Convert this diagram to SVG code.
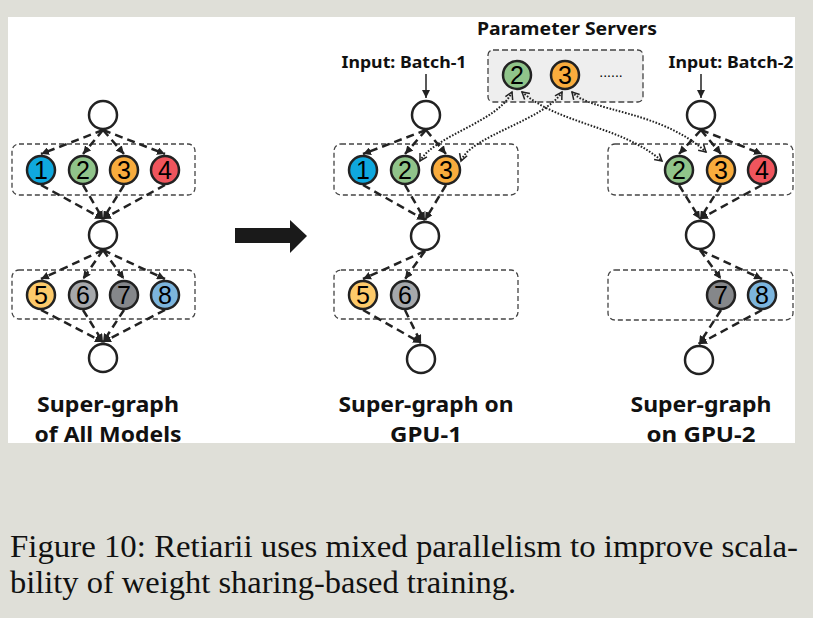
<svg xmlns="http://www.w3.org/2000/svg" width="813" height="618" viewBox="0 0 813 618">
<style>
.nd{stroke:#222;stroke-width:2.5}
.e{fill:#fff}
.num{font-family:"Liberation Sans",Arial,sans-serif;font-size:25px;fill:#000;text-anchor:middle}
.box{fill:none;stroke:#444;stroke-width:1.3;stroke-dasharray:5 3}
.dash{fill:none;stroke:#222;stroke-width:2.5;stroke-dasharray:8 5;marker-end:url(#ah)}
.dot{fill:none;stroke:#222;stroke-width:2;stroke-dasharray:1.6 1.6;marker-start:url(#oh);marker-end:url(#oh)}
.in{fill:none;stroke:#222;stroke-width:1.5;marker-end:url(#ih)}
.lbl{font-family:"Noto Sans","DejaVu Sans",sans-serif;font-weight:bold;fill:#111;text-anchor:middle}
.cap{font-family:"Liberation Serif","Times New Roman",serif;font-size:32px;fill:#111}
</style>
<defs>
<marker id="ah" markerUnits="userSpaceOnUse" markerWidth="9" markerHeight="8" refX="8" refY="4" orient="auto"><path d="M0,0 L8,4 L0,8 z" fill="#222"/></marker>
<marker id="ih" markerUnits="userSpaceOnUse" markerWidth="9" markerHeight="8" refX="8" refY="4" orient="auto"><path d="M0,0 L8,4 L0,8 z" fill="#222"/></marker>
<marker id="oh" markerUnits="userSpaceOnUse" markerWidth="10" markerHeight="10" refX="8" refY="5" orient="auto-start-reverse"><path d="M1,1 L8,5 L1,9" fill="none" stroke="#222" stroke-width="1.5"/></marker>
</defs>
<rect x="0" y="0" width="813" height="618" fill="#dfdfd8"/>
<rect x="8" y="17" width="787" height="426" fill="#fff"/>

<g id="boxes">
<rect class="box" x="12" y="144" width="183" height="51" rx="7"/>
<rect class="box" x="12" y="270" width="183" height="49" rx="7"/>
<rect class="box" x="334" y="144" width="184" height="51" rx="7"/>
<rect class="box" x="334" y="270" width="184" height="49" rx="7"/>
<rect class="box" x="608" y="144" width="185" height="51" rx="7"/>
<rect class="box" x="608" y="270" width="185" height="50" rx="7"/>
</g>
<g id="ps">
<rect x="488" y="50" width="155" height="52" rx="5" fill="#eeeeee" stroke="#444" stroke-width="1.3" stroke-dasharray="6 3"/>
<text x="567" y="35" class="lbl" font-size="18" textLength="180" lengthAdjust="spacingAndGlyphs">Parameter Servers</text>
<text x="611" y="77" font-family="Liberation Sans,sans-serif" font-size="14" fill="#000" text-anchor="middle">......</text>
</g>

<g id="connectors">
<!-- panel 1 -->
<line class="dash" x1="103" y1="130" x2="41" y2="154"/>
<line class="dash" x1="103" y1="130" x2="83" y2="154"/>
<line class="dash" x1="103" y1="130" x2="124" y2="154"/>
<line class="dash" x1="103" y1="130" x2="165" y2="154"/>
<line class="dash" x1="41" y1="185" x2="103" y2="219"/>
<line class="dash" x1="83" y1="185" x2="103" y2="219"/>
<line class="dash" x1="124" y1="185" x2="103" y2="219"/>
<line class="dash" x1="165" y1="185" x2="103" y2="219"/>
<line class="dash" x1="103" y1="250" x2="41" y2="279"/>
<line class="dash" x1="103" y1="250" x2="83" y2="279"/>
<line class="dash" x1="103" y1="250" x2="124" y2="279"/>
<line class="dash" x1="103" y1="250" x2="165" y2="279"/>
<line class="dash" x1="41" y1="310" x2="103" y2="342"/>
<line class="dash" x1="83" y1="310" x2="103" y2="342"/>
<line class="dash" x1="124" y1="310" x2="103" y2="342"/>
<line class="dash" x1="165" y1="310" x2="103" y2="342"/>
<!-- panel 2 -->
<line class="in" x1="426" y1="74" x2="426" y2="98"/>
<line class="dash" x1="426" y1="130" x2="363" y2="154"/>
<line class="dash" x1="426" y1="130" x2="405" y2="154"/>
<line class="dash" x1="426" y1="130" x2="446" y2="154"/>
<line class="dash" x1="363" y1="185" x2="425" y2="220"/>
<line class="dash" x1="405" y1="185" x2="425" y2="220"/>
<line class="dash" x1="446" y1="185" x2="425" y2="220"/>
<line class="dash" x1="425" y1="251" x2="363" y2="279"/>
<line class="dash" x1="425" y1="251" x2="405" y2="279"/>
<line class="dash" x1="363" y1="310" x2="421" y2="343"/>
<line class="dash" x1="405" y1="310" x2="421" y2="343"/>
<!-- panel 3 -->
<line class="in" x1="701" y1="74" x2="701" y2="98"/>
<line class="dash" x1="701" y1="130" x2="679" y2="154"/>
<line class="dash" x1="701" y1="130" x2="721" y2="154"/>
<line class="dash" x1="701" y1="130" x2="762" y2="154"/>
<line class="dash" x1="679" y1="185" x2="700" y2="219"/>
<line class="dash" x1="721" y1="185" x2="700" y2="219"/>
<line class="dash" x1="762" y1="185" x2="700" y2="219"/>
<line class="dash" x1="700" y1="250" x2="721" y2="279"/>
<line class="dash" x1="700" y1="250" x2="762" y2="279"/>
<line class="dash" x1="721" y1="310" x2="699" y2="344"/>
<line class="dash" x1="762" y1="310" x2="699" y2="344"/>
<!-- parameter server links -->
<path class="dot" d="M512,92 C498,122 435,135 420,161"/>
<path class="dot" d="M562,92 C545,120 470,136 461,161"/>
<path class="dot" d="M522,92 C560,125 620,125 662,161"/>
<path class="dot" d="M572,92 C590,112 660,110 706,152"/>
</g>

<g id="arrow"><path d="M235,228 H290 V220 L307,236 L290,253 V243 H235 z" fill="#1a1a1a"/></g>

<g id="p1">
<circle class="nd e" cx="103" cy="115" r="14"/>
<circle class="nd" cx="41" cy="170" r="14" fill="#0fa8de"/><text class="num" x="41" y="179">1</text>
<circle class="nd" cx="83" cy="170" r="14" fill="#90c48a"/><text class="num" x="83" y="179">2</text>
<circle class="nd" cx="124" cy="170" r="14" fill="#f9ac3d"/><text class="num" x="124" y="179">3</text>
<circle class="nd" cx="165" cy="170" r="14" fill="#f0555d"/><text class="num" x="165" y="179">4</text>
<circle class="nd e" cx="103" cy="235" r="14"/>
<circle class="nd" cx="41" cy="295" r="14" fill="#fdca6a"/><text class="num" x="41" y="304">5</text>
<circle class="nd" cx="83" cy="295" r="14" fill="#a6a8ab"/><text class="num" x="83" y="304">6</text>
<circle class="nd" cx="124" cy="295" r="14" fill="#85878a"/><text class="num" x="124" y="304">7</text>
<circle class="nd" cx="165" cy="295" r="14" fill="#7cb5dd"/><text class="num" x="165" y="304">8</text>
<circle class="nd e" cx="103" cy="358" r="14"/>
<text class="lbl" x="108" y="412" font-size="21" textLength="142" lengthAdjust="spacingAndGlyphs">Super-graph</text>
<text class="lbl" x="108" y="442" font-size="21" textLength="147" lengthAdjust="spacingAndGlyphs">of All Models</text>
</g>

<g id="p2">
<text class="lbl" x="404" y="68" font-size="16" textLength="125" lengthAdjust="spacingAndGlyphs">Input: Batch-1</text>
<circle class="nd e" cx="426" cy="115" r="14"/>
<circle class="nd" cx="363" cy="170" r="14" fill="#0fa8de"/><text class="num" x="363" y="179">1</text>
<circle class="nd" cx="405" cy="170" r="14" fill="#90c48a"/><text class="num" x="405" y="179">2</text>
<circle class="nd" cx="446" cy="170" r="14" fill="#f9ac3d"/><text class="num" x="446" y="179">3</text>
<circle class="nd e" cx="425" cy="236" r="14"/>
<circle class="nd" cx="363" cy="295" r="14" fill="#fdca6a"/><text class="num" x="363" y="304">5</text>
<circle class="nd" cx="405" cy="295" r="14" fill="#a6a8ab"/><text class="num" x="405" y="304">6</text>
<circle class="nd e" cx="421" cy="359" r="14"/>
<text class="lbl" x="426" y="412" font-size="21" textLength="175" lengthAdjust="spacingAndGlyphs">Super-graph on</text>
<text class="lbl" x="426" y="442" font-size="21" textLength="72" lengthAdjust="spacingAndGlyphs">GPU-1</text>
</g>

<g id="ps-nodes">
<circle class="nd" cx="517" cy="75" r="14" fill="#90c48a"/><text class="num" x="517" y="84">2</text>
<circle class="nd" cx="565" cy="75" r="14" fill="#f9ac3d"/><text class="num" x="565" y="84">3</text>
</g>

<g id="p3">
<text class="lbl" x="731" y="68" font-size="16" textLength="125" lengthAdjust="spacingAndGlyphs">Input: Batch-2</text>
<circle class="nd e" cx="701" cy="115" r="14"/>
<circle class="nd" cx="679" cy="170" r="14" fill="#90c48a"/><text class="num" x="679" y="179">2</text>
<circle class="nd" cx="721" cy="170" r="14" fill="#f9ac3d"/><text class="num" x="721" y="179">3</text>
<circle class="nd" cx="762" cy="170" r="14" fill="#f0555d"/><text class="num" x="762" y="179">4</text>
<circle class="nd e" cx="700" cy="235" r="14"/>
<circle class="nd" cx="721" cy="295" r="14" fill="#85878a"/><text class="num" x="721" y="304">7</text>
<circle class="nd" cx="762" cy="295" r="14" fill="#7cb5dd"/><text class="num" x="762" y="304">8</text>
<circle class="nd e" cx="699" cy="360" r="14"/>
<text class="lbl" x="701" y="412" font-size="21" textLength="141" lengthAdjust="spacingAndGlyphs">Super-graph</text>
<text class="lbl" x="701" y="442" font-size="21" textLength="109" lengthAdjust="spacingAndGlyphs">on GPU-2</text>
</g>

<g id="caption">
<text class="cap" x="10" y="557" textLength="788" lengthAdjust="spacingAndGlyphs">Figure 10: Retiarii uses mixed parallelism to improve scala-</text>
<text class="cap" x="10" y="593" textLength="506" lengthAdjust="spacingAndGlyphs">bility of weight sharing-based training.</text>
</g>
</svg>
